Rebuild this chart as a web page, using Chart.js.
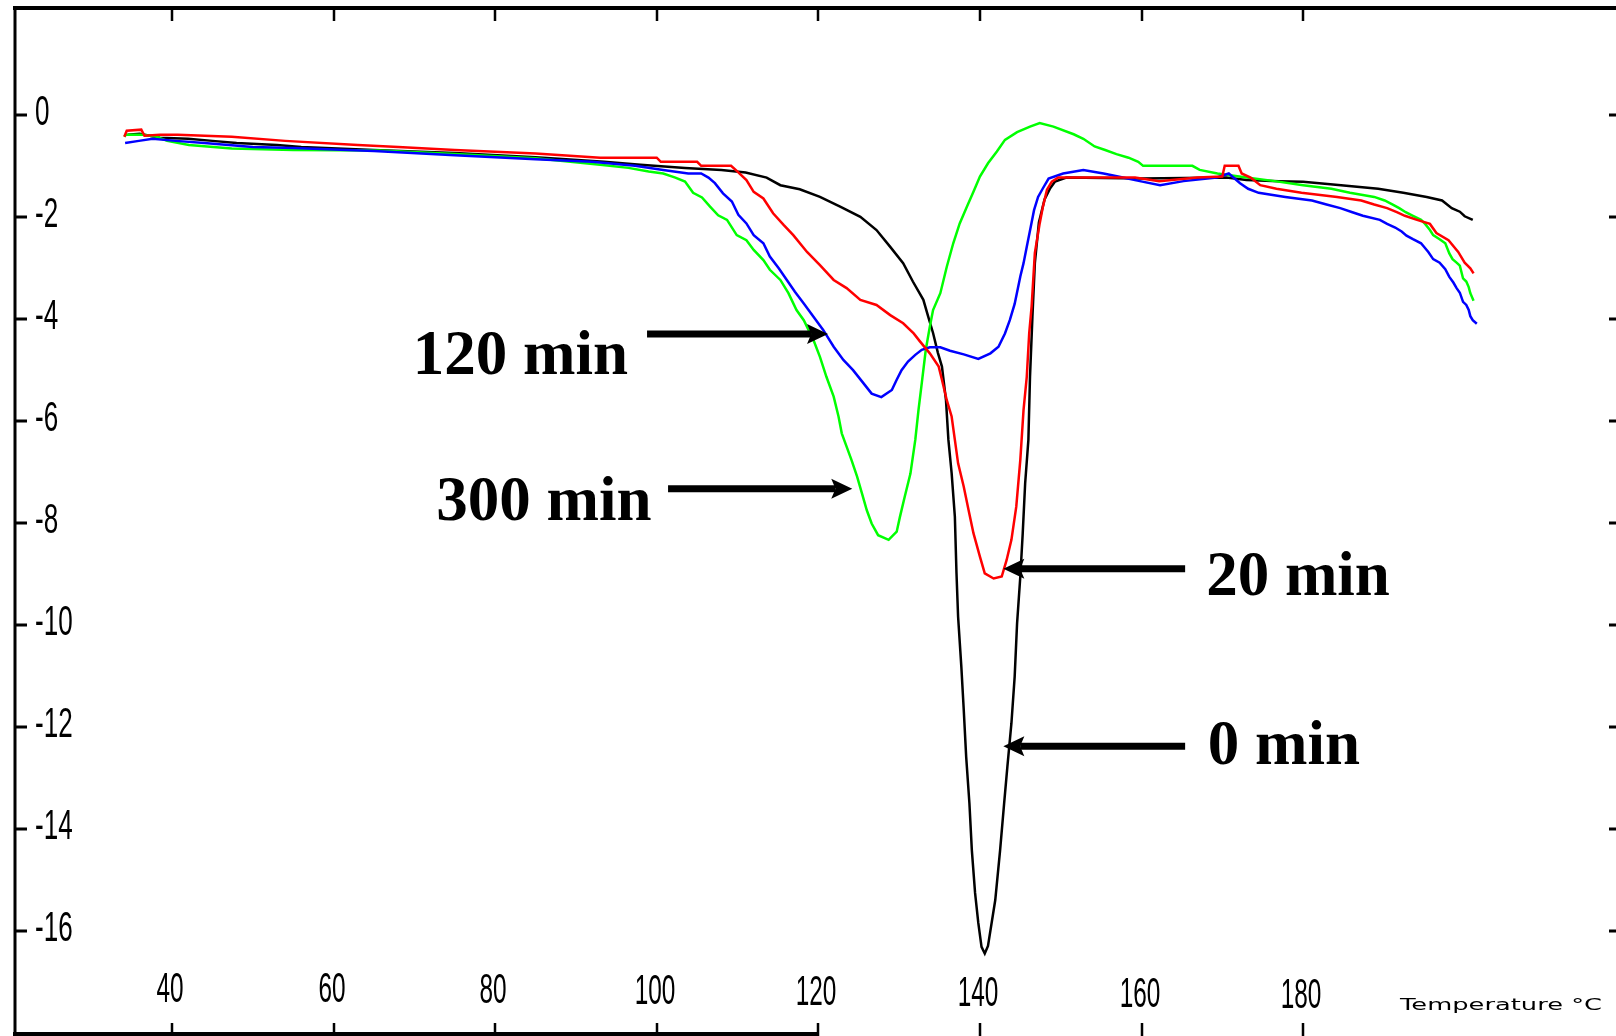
<!DOCTYPE html>
<html>
<head>
<meta charset="utf-8">
<script src="https://cdn.jsdelivr.net/npm/chart.js@4.4.0/dist/chart.umd.min.js"></script>
<style>
html, body { margin: 0; padding: 0; background: #fff; }
#wrap { width: 1616px; height: 1036px; position: relative; }
</style>
</head>
<body>
<div id="wrap"><canvas id="chart"></canvas></div>
<script>
// temperature (deg C) and heat flow
const temp_0min = [34.5, 36.0, 38.5, 42, 45, 48, 53, 56, 65, 75, 85, 93.5, 98, 103.5, 108, 111, 113.6, 115.3, 117.7, 120.2, 122.7, 125.2, 127.2, 128.9, 130.5, 131.7, 133.0, 133.6, 134.2, 134.8, 135.3, 135.8, 136.1, 136.5, 136.9, 137.1, 137.3, 137.7, 138.0, 138.3, 138.7, 139.0, 139.4, 139.8, 140.2, 140.6, 141.0, 141.9, 142.5, 143.0, 143.4, 143.9, 144.3, 144.6, 145.0, 145.3, 145.6, 146.0, 146.2, 146.5, 146.8, 147.3, 148.0, 148.7, 149.3, 150.7, 160, 170.5, 173, 177, 180, 184.7, 189.3, 192.4, 195.3, 197.2, 198.4, 199.4, 200.0, 201.0];
const heat_0min = [-0.38, -0.36, -0.44, -0.46, -0.50, -0.54, -0.58, -0.62, -0.68, -0.74, -0.82, -0.91, -0.97, -1.03, -1.07, -1.12, -1.22, -1.37, -1.45, -1.60, -1.79, -1.99, -2.25, -2.58, -2.90, -3.26, -3.62, -3.95, -4.27, -4.66, -4.93, -5.59, -6.37, -7.02, -7.88, -8.98, -9.84, -10.82, -11.67, -12.59, -13.50, -14.42, -15.26, -15.85, -16.32, -16.45, -16.30, -15.40, -14.42, -13.50, -12.78, -11.93, -11.02, -9.97, -9.05, -8.20, -7.22, -6.37, -5.13, -3.95, -2.90, -2.10, -1.65, -1.43, -1.30, -1.22, -1.24, -1.22, -1.27, -1.29, -1.30, -1.37, -1.44, -1.52, -1.60, -1.67, -1.82, -1.89, -1.98, -2.05];

const temp_20min = [34.1, 34.4, 36.2, 36.6, 38.5, 40.7, 47.4, 54, 63, 68, 75, 85, 93, 100, 100.5, 105, 105.5, 109.2, 109.9, 111.1, 112.0, 113.2, 114.4, 115.7, 116.9, 118.6, 120.2, 121.9, 123.5, 125.2, 127.2, 128.9, 130.5, 131.8, 132.6, 133.8, 134.9, 135.3, 135.9, 136.5, 136.9, 137.3, 138.0, 138.6, 139.2, 140.0, 140.6, 141.7, 142.7, 143.3, 143.9, 144.5, 145.0, 145.4, 145.8, 146.1, 146.4, 146.8, 147.4, 147.8, 148.3, 148.9, 149.7, 155, 159.2, 162.2, 166.9, 170.0, 170.3, 172.0, 172.4, 173.5, 174.7, 176.7, 179.8, 184.2, 187.2, 188.8, 190.4, 191.6, 192.6, 194.1, 195.7, 196.5, 198.0, 199.2, 200.0, 200.7, 201.1];
const heat_20min = [-0.42, -0.30, -0.28, -0.40, -0.38, -0.38, -0.42, -0.50, -0.58, -0.62, -0.68, -0.75, -0.83, -0.83, -0.91, -0.91, -0.99, -0.99, -1.09, -1.27, -1.50, -1.63, -1.92, -2.15, -2.35, -2.68, -2.94, -3.23, -3.39, -3.62, -3.72, -3.92, -4.08, -4.28, -4.44, -4.67, -4.93, -5.19, -5.59, -5.91, -6.37, -6.83, -7.29, -7.75, -8.20, -8.66, -8.99, -9.09, -9.05, -8.73, -8.33, -7.68, -6.76, -5.78, -5.13, -4.28, -3.75, -2.70, -2.12, -1.79, -1.46, -1.30, -1.22, -1.22, -1.22, -1.29, -1.22, -1.20, -0.99, -0.99, -1.14, -1.22, -1.37, -1.44, -1.52, -1.60, -1.67, -1.75, -1.82, -1.90, -1.97, -2.05, -2.13, -2.31, -2.45, -2.68, -2.89, -3.00, -3.10];

const temp_120min = [34.2, 35.9, 37.6, 40.5, 44, 50, 55, 65, 75, 85, 92, 97.3, 100.8, 103.9, 105.5, 106.4, 107.2, 108.2, 109.3, 110.1, 111.1, 112.0, 113.2, 114.0, 115.1, 116.1, 117.1, 118.2, 119.4, 120.6, 121.9, 123.1, 124.3, 125.6, 126.6, 127.8, 129.1, 129.7, 130.3, 131.1, 132.0, 132.8, 133.8, 135.1, 136.3, 138.0, 139.8, 141.3, 142.3, 143.1, 143.7, 144.3, 145.0, 145.4, 145.8, 146.3, 146.7, 147.2, 147.8, 148.5, 150.3, 152.8, 155.3, 157.7, 159.8, 162.3, 165.2, 169.3, 170.8, 172.2, 173.2, 174.5, 177.8, 181.1, 182.9, 184.6, 186.1, 187.4, 189.5, 190.4, 191.4, 192.2, 192.8, 193.6, 194.6, 195.5, 196.1, 196.9, 197.6, 198.1, 198.6, 199.0, 199.4, 199.8, 200.2, 200.5, 200.7, 201.0, 201.5];
const heat_120min = [-0.54, -0.50, -0.46, -0.50, -0.54, -0.62, -0.64, -0.70, -0.78, -0.86, -0.91, -0.99, -1.07, -1.14, -1.14, -1.22, -1.33, -1.53, -1.69, -1.95, -2.12, -2.35, -2.51, -2.77, -3.00, -3.23, -3.46, -3.69, -3.95, -4.21, -4.54, -4.80, -5.00, -5.26, -5.46, -5.53, -5.39, -5.19, -5.00, -4.83, -4.70, -4.60, -4.55, -4.55, -4.62, -4.69, -4.78, -4.67, -4.54, -4.28, -4.02, -3.70, -3.16, -2.90, -2.58, -2.18, -1.86, -1.60, -1.43, -1.24, -1.14, -1.07, -1.14, -1.22, -1.29, -1.37, -1.29, -1.22, -1.14, -1.33, -1.44, -1.52, -1.60, -1.67, -1.75, -1.82, -1.90, -1.97, -2.05, -2.13, -2.20, -2.28, -2.36, -2.43, -2.51, -2.68, -2.82, -2.89, -3.02, -3.17, -3.28, -3.39, -3.48, -3.66, -3.72, -3.82, -3.94, -4.02, -4.09];

const temp_300min = [34.1, 34.3, 36.4, 38.1, 39.4, 42.1, 47.4, 55, 65.7, 75, 85, 93, 96.5, 99, 100.8, 102.3, 103.5, 104.5, 105.6, 106.6, 107.6, 108.7, 109.9, 111.1, 112.0, 113.2, 114.0, 115.3, 116.3, 117.3, 118.2, 119.4, 120.2, 121.0, 121.9, 122.5, 122.9, 123.5, 124.1, 124.8, 125.4, 126.0, 126.6, 127.4, 128.7, 129.7, 130.1, 130.7, 131.4, 132.0, 132.4, 132.8, 133.3, 133.8, 134.2, 135.1, 135.9, 136.7, 137.5, 138.4, 139.2, 140.0, 141.0, 142.1, 143.1, 144.6, 146.2, 147.4, 149.1, 151.6, 152.8, 154.2, 155.5, 156.9, 158.4, 159.6, 160.2, 166.3, 167.2, 169.4, 173.0, 176.5, 180.0, 183.5, 185.8, 188.8, 190.1, 191.1, 191.9, 192.7, 193.6, 194.6, 195.1, 195.7, 196.1, 196.9, 197.6, 198.1, 198.5, 199.0, 199.4, 199.8, 200.2, 200.5, 200.7, 201.1];
const heat_300min = [-0.42, -0.38, -0.38, -0.42, -0.50, -0.58, -0.65, -0.68, -0.69, -0.76, -0.84, -0.97, -1.03, -1.10, -1.14, -1.22, -1.30, -1.52, -1.61, -1.79, -1.96, -2.05, -2.35, -2.45, -2.64, -2.84, -3.03, -3.23, -3.49, -3.82, -4.02, -4.41, -4.74, -5.13, -5.52, -5.91, -6.24, -6.50, -6.76, -7.09, -7.42, -7.75, -8.01, -8.24, -8.33, -8.17, -7.88, -7.48, -7.03, -6.37, -5.78, -5.26, -4.60, -4.15, -3.82, -3.49, -2.97, -2.51, -2.12, -1.79, -1.50, -1.20, -0.94, -0.71, -0.48, -0.33, -0.22, -0.15, -0.22, -0.37, -0.46, -0.61, -0.68, -0.76, -0.83, -0.91, -0.99, -0.99, -1.07, -1.14, -1.22, -1.29, -1.37, -1.44, -1.52, -1.60, -1.67, -1.75, -1.82, -1.90, -1.97, -2.05, -2.13, -2.25, -2.35, -2.43, -2.51, -2.71, -2.82, -2.89, -2.95, -3.20, -3.26, -3.37, -3.49, -3.64];

const xTicks = [40, 60, 80, 100, 120, 140, 160, 180];
const yTicks = [0, -2, -4, -6, -8, -10, -12, -14, -16];
const xTitle = 'Temperature °C';

// callouts: label, where the text starts, and the arrow (data units)
const calloutLabels = ['120 min', '300 min', '20 min', '0 min'];
const calloutTextT = [69.8, 72.7, 168.0, 168.2];
const calloutTextV = [-5.08, -7.95, -9.41, -12.73];
const calloutTailT = [98.8, 101.4, 165.4, 165.4];
const calloutTipT = [121.2, 124.2, 142.9, 142.9];
const calloutArrowV = [-4.29, -7.33, -8.90, -12.38];

function toPoints(xs, ys) {
    return xs.map((x, i) => ({ x: x, y: ys[i] }));
}

function narrowText(ctx, text, x, y, align, sx) {
    ctx.save();
    ctx.translate(x, y);
    ctx.scale(sx, 1);
    ctx.textAlign = align;
    ctx.textBaseline = 'middle';
    ctx.fillText(text, 0, 0);
    ctx.restore();
}

function arrow(ctx, x1, y, x2) {
    // tail at x1, tip at x2
    const dir = x2 > x1 ? 1 : -1;
    const head = 21;
    ctx.beginPath();
    ctx.moveTo(x1, y);
    ctx.lineTo(x2 - dir * head * 0.8, y);
    ctx.lineWidth = 7;
    ctx.stroke();
    ctx.beginPath();
    ctx.moveTo(x2, y);
    ctx.lineTo(x2 - dir * head, y - 10);
    ctx.lineTo(x2 - dir * head * 0.8, y);
    ctx.lineTo(x2 - dir * head, y + 10);
    ctx.closePath();
    ctx.fill();
}

const framePlugin = {
    id: 'frame',
    afterDraw(chart) {
        const ctx = chart.ctx;
        const a = chart.chartArea;
        const xs = chart.scales.x;
        const ys = chart.scales.y;
        ctx.save();
        ctx.strokeStyle = '#000';
        ctx.fillStyle = '#000';

        // frame lines
        ctx.lineWidth = 3;
        ctx.beginPath();
        ctx.moveTo(a.left, a.top - 2);
        ctx.lineTo(a.left, chart.height);
        ctx.stroke();
        ctx.lineWidth = 4;
        ctx.beginPath();
        ctx.moveTo(a.left - 2, a.top);
        ctx.lineTo(chart.width, a.top);
        ctx.stroke();
        ctx.beginPath();
        ctx.moveTo(a.left - 2, a.bottom + 1);
        ctx.lineTo(xs.getPixelForValue(120), a.bottom + 1);
        ctx.stroke();

        // y ticks (both sides) and labels
        ctx.font = '42px "Liberation Sans"';
        ctx.lineWidth = 3;
        yTicks.forEach(v => {
            const py = Math.round(ys.getPixelForValue(v));
            ctx.beginPath();
            ctx.moveTo(a.left, py);
            ctx.lineTo(a.left + 12, py);
            ctx.moveTo(chart.width - 7, py);
            ctx.lineTo(chart.width, py);
            ctx.stroke();
            narrowText(ctx, String(v), a.left + 20, py - 2, 'left', 0.62);
        });

        // x ticks (top and bottom) and labels
        ctx.lineWidth = 2.5;
        xTicks.forEach(t => {
            const px = Math.round(xs.getPixelForValue(t));
            ctx.beginPath();
            ctx.moveTo(px, a.top);
            ctx.lineTo(px, a.top + 13);
            ctx.moveTo(px, a.bottom + 3);
            ctx.lineTo(px, a.bottom - 10);
            ctx.stroke();
            narrowText(ctx, String(t), px - 2, 990 + (t - 40) * 0.045, 'center', 0.58);
        });

        // axis title, squeezed into the bottom right corner
        ctx.font = '20px "DejaVu Sans"';
        const tw = ctx.measureText(xTitle).width;
        ctx.save();
        ctx.translate(chart.width - 216, 1006);
        ctx.scale(202 / tw, 0.8);
        ctx.textAlign = 'left';
        ctx.textBaseline = 'middle';
        ctx.fillText(xTitle, 0, 0);
        ctx.restore();

        // callouts
        ctx.font = 'bold 63px "Liberation Serif"';
        ctx.textAlign = 'left';
        ctx.textBaseline = 'alphabetic';
        calloutLabels.forEach((lab, i) => {
            ctx.fillText(lab, xs.getPixelForValue(calloutTextT[i]), ys.getPixelForValue(calloutTextV[i]));
            arrow(ctx, xs.getPixelForValue(calloutTailT[i]), ys.getPixelForValue(calloutArrowV[i]),
                xs.getPixelForValue(calloutTipT[i]));
        });
        ctx.restore();
    }
};

const ctx = document.getElementById('chart').getContext('2d');

const chart = new Chart(ctx, {
    type: 'line',
    data: {
        datasets: [
            { label: '20 min', data: toPoints(temp_20min, heat_20min), borderColor: '#ff0000' },
            { label: '120 min', data: toPoints(temp_120min, heat_120min), borderColor: '#0000ff' },
            { label: '300 min', data: toPoints(temp_300min, heat_300min), borderColor: '#00ff00' },
            { label: '0 min', data: toPoints(temp_0min, heat_0min), borderColor: '#000000' }
        ]
    },
    options: {
        responsive: true,
        maintainAspectRatio: false,
        animation: false,
        layout: { padding: { left: 15, top: 8, right: 0, bottom: 3 } },
        elements: {
            point: { radius: 0 },
            line: { tension: 0, borderWidth: 2.5, fill: false }
        },
        plugins: {
            legend: { display: false },
            tooltip: { enabled: false }
        },
        scales: {
            x: { type: 'linear', min: 20.57, max: 218.73, display: false },
            y: { type: 'linear', min: -18.01, max: 2.108, display: false }
        }
    },
    plugins: [framePlugin]
});
</script>
</body>
</html>
